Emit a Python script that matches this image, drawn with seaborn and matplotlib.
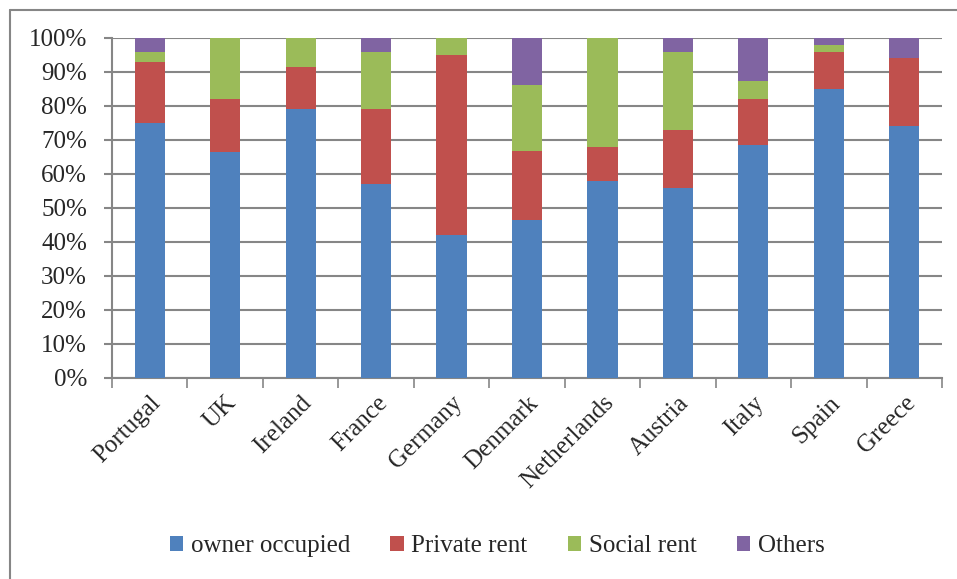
import matplotlib
matplotlib.use("Agg")
import matplotlib.pyplot as plt
import seaborn as sns
import numpy as np
import pandas as pd
from matplotlib.patches import Patch
from matplotlib.lines import Line2D

countries = ["Portugal", "UK", "Ireland", "France", "Germany", "Denmark",
             "Netherlands", "Austria", "Italy", "Spain", "Greece"]
owner_occupied = [75.0, 66.5, 79.0, 57.0, 42.0, 46.5, 58.0, 56.0, 68.4, 85.0, 74.0]
private_rent = [18.0, 15.5, 12.4, 22.0, 53.0, 20.3, 10.0, 17.0, 13.7, 11.0, 20.0]
social_rent = [3.0, 18.0, 8.6, 17.0, 5.0, 19.3, 32.0, 23.0, 5.3, 2.0, 0.0]
others = [4.0, 0.0, 0.0, 4.0, 0.0, 13.9, 0.0, 4.0, 12.6, 2.0, 6.0]

series_names = ["owner occupied", "Private rent", "Social rent", "Others"]
series_colors = ["#4F81BD", "#C0504D", "#9BBB59", "#8064A2"]
y_ticks = [0, 10, 20, 30, 40, 50, 60, 70, 80, 90, 100]
y_tick_labels = [f"{t}%" for t in y_ticks]

sns.set_style("white")
plt.rcParams["font.family"] = ["Liberation Serif", "DejaVu Serif"]

W, H = 957, 579
fig = plt.figure(figsize=(W / 100, H / 100), dpi=100)
ax = fig.add_axes([112 / W, 1 - 378 / H, (942 - 112) / W, (378 - 38) / H])

data = np.array([owner_occupied, private_rent, social_rent, others])
cum = np.cumsum(data, axis=0)
df = pd.DataFrame({"country": countries})
# draw cumulative totals from top down so each series shows its own segment
for i in range(len(series_names) - 1, -1, -1):
    df["val"] = cum[i]
    sns.barplot(data=df, x="country", y="val", order=countries, color=series_colors[i],
                width=0.4, saturation=1, ax=ax, edgecolor="none", linewidth=0,
                zorder=3)

ax.set_xlim(-0.5, len(countries) - 0.5)
ax.set_ylim(0, 100)
ax.set_yticks(y_ticks)
ax.set_yticklabels(y_tick_labels, fontsize=18)
ax.set_xlabel("")
ax.set_ylabel("")
ax.set_xticks(range(len(countries)))
ax.set_xticklabels(countries, rotation=45, ha="right", rotation_mode="anchor", fontsize=18)
ax.tick_params(axis="x", length=0, pad=10)
ax.tick_params(axis="y", length=6, width=1.5, color="#868686", pad=12, left=True, direction="out")
# category boundary ticks on x axis
ax.set_xticks(np.arange(-0.5, len(countries), 1.0), minor=True)
ax.tick_params(axis="x", which="minor", length=7, width=1.2, color="#868686", bottom=True, direction="out")

ax.yaxis.grid(True, color="#868686", linewidth=1.5, zorder=0)
ax.set_axisbelow(True)
for s in ["top", "right"]:
    ax.spines[s].set_visible(False)
for s in ["left", "bottom"]:
    ax.spines[s].set_color("#868686")
    ax.spines[s].set_linewidth(1.5)

handles = [Patch(facecolor=c, edgecolor="none") for c in series_colors]
fig.legend(handles, series_names, loc="center", bbox_to_anchor=(497 / W, 1 - 546 / H),
           ncol=4, frameon=False, fontsize=18, handlelength=0.55, handleheight=0.55,
           handletextpad=0.3, columnspacing=1.6)

# outer chart border (left and top visible)
fig.add_artist(Line2D([9.5 / W, 9.5 / W], [0, 1 - 9.5 / H], transform=fig.transFigure,
                      color="#868686", linewidth=1.5))
fig.add_artist(Line2D([9.5 / W, 1], [1 - 9.5 / H, 1 - 9.5 / H], transform=fig.transFigure,
                      color="#868686", linewidth=1.5))

fig.savefig("out.png", dpi=100, facecolor="white")
